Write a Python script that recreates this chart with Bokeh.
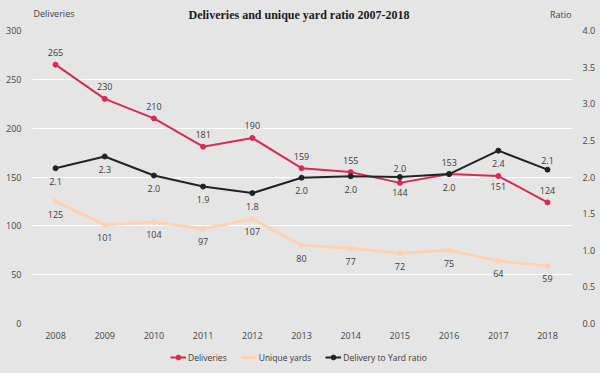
from bokeh.plotting import figure
from bokeh.layouts import column
from bokeh.models import (ColumnDataSource, Range1d, LinearAxis, Legend, LegendItem,
                          Label, FixedTicker, NumeralTickFormatter)
from bokeh.embed import file_html
from bokeh.resources import INLINE
from bokeh.core.properties import value

# ---- data ----
years = [2008, 2009, 2010, 2011, 2012, 2013, 2014, 2015, 2016, 2017, 2018]
deliveries = [265, 230, 210, 181, 190, 159, 155, 144, 153, 151, 124]
unique_yards = [125, 101, 104, 97, 107, 80, 77, 72, 75, 64, 59]
ratio = [2.12, 2.28, 2.02, 1.87, 1.78, 1.99, 2.01, 2.00, 2.04, 2.36, 2.10]
left_ticks = [0, 50, 100, 150, 200, 250, 300]
right_ticks = [0.0, 0.5, 1.0, 1.5, 2.0, 2.5, 3.0, 3.5, 4.0]
title_text = "Deliveries and unique  yard ratio 2007-2018"
left_title = "Deliveries"
right_title = "Ratio"
series_names = ["Deliveries", "Unique yards", "Delivery to Yard ratio"]

# label placement (style): "a" above, "b" below
deliveries_side = ["a", "a", "a", "a", "a", "a", "a", "b", "a", "b", "a"]
yards_side = ["b"] * 11
ratio_side = ["b", "b", "b", "b", "b", "b", "b", "a", "b", "b", "a"]

BG = "#e5e5e5"
RED = "#d82a52"
PEACH = "#fbd3b4"
BLACK = "#222222"
TXT = "#3a3a3a"
AXT = "#444444"
FONT = "Open Sans"
W = 600
FL, FR = 32, 572   # frame edges (column aligns all frames)

def bare(h):
    f = figure(width=W, height=h, output_backend="svg", toolbar_location=None,
               x_range=Range1d(FL, FR), y_range=Range1d(0, h),
               x_axis_type=None, y_axis_type=None,
               background_fill_color=BG, border_fill_color=BG, outline_line_color=None,
               min_border=0, min_border_left=0, min_border_right=0,
               min_border_top=0, min_border_bottom=0)
    f.grid.grid_line_color = None
    return f

# ---- header ----
HH = 25
head = bare(HH)
head.add_layout(Label(x=300, y=11, text=title_text, text_font="Liberation Serif",
                      text_font_style="bold", text_font_size="12px", text_color="#1a1a1a",
                      text_align="center", text_baseline="middle"))
head.add_layout(Label(x=FL + 1, y=12, text=left_title, text_font=FONT, text_font_size="9px",
                      text_color=AXT, text_align="left", text_baseline="middle"))
head.add_layout(Label(x=FR - 1, y=11, text=right_title, text_font=FONT, text_font_size="9px",
                      text_color=AXT, text_align="right", text_baseline="middle"))

# ---- main chart ----
p = figure(width=W, height=320, output_backend="svg", toolbar_location=None,
           x_range=Range1d(2007.532, 2018.508), y_range=Range1d(0, 300),
           background_fill_color=BG, border_fill_color=BG, outline_line_color=None,
           min_border_left=FL, min_border_right=W - FR, min_border_top=5, min_border_bottom=22)
p.extra_y_ranges = {"ratio": Range1d(0, 4)}

p.xgrid.grid_line_color = None
p.ygrid.grid_line_color = "white"
p.ygrid.grid_line_width = 1
p.ygrid.ticker = FixedTicker(ticks=left_ticks)

p.xaxis.ticker = FixedTicker(ticks=years)
p.yaxis.ticker = FixedTicker(ticks=left_ticks)

right = LinearAxis(y_range_name="ratio", ticker=FixedTicker(ticks=right_ticks),
                   formatter=NumeralTickFormatter(format="0.0"))
p.add_layout(right, "right")

for ax in [p.xaxis[0], p.yaxis[0], right]:
    ax.axis_line_color = None
    ax.major_tick_line_color = None
    ax.minor_tick_line_color = None
    ax.major_tick_out = 0
    ax.major_tick_in = 0
    ax.minor_tick_out = 0
    ax.minor_tick_in = 0
    ax.major_label_text_font = FONT
    ax.major_label_text_font_size = "9px"
    ax.major_label_text_color = AXT
p.xaxis.major_label_standoff = 8
p.yaxis[0].major_label_standoff = 11
right.major_label_standoff = 10

def offsets(sides, up, down):
    return [up if s == "a" else down for s in sides]

p.line(years, deliveries, color=RED, line_width=2)
p.scatter(years, deliveries, size=5, color=RED)
p.line(years, unique_yards, color=PEACH, line_width=3)
p.scatter(years, unique_yards, size=5, color=PEACH)
p.line(years, ratio, color=BLACK, line_width=2, y_range_name="ratio")
p.scatter(years, ratio, size=5, color=BLACK, y_range_name="ratio")

src1 = ColumnDataSource(dict(x=years, y=deliveries, t=[str(v) for v in deliveries],
                             off=offsets(deliveries_side, -12, 10)))
src2 = ColumnDataSource(dict(x=years, y=unique_yards, t=[str(v) for v in unique_yards],
                             off=offsets(yards_side, -12, 13)))
src3 = ColumnDataSource(dict(x=years, y=ratio, t=["%.1f" % v for v in ratio],
                             off=offsets(ratio_side, -9, 13)))
for src, rng in [(src1, "default"), (src2, "default"), (src3, "ratio")]:
    p.text("x", "y", text="t", y_offset="off", source=src, y_range_name=rng,
           text_align="center", text_baseline="middle",
           text_font=value(FONT), text_font_size="9px", text_color=TXT)

# ---- legend strip (series re-used only for legend swatches; out of view) ----
leg = bare(28)
l1 = leg.line(years, deliveries, color=RED, line_width=2)
m1 = leg.scatter(years, deliveries, size=5, color=RED)
l2 = leg.line(years, unique_yards, color=PEACH, line_width=3)
l3 = leg.line(years, ratio, color=BLACK, line_width=2)
m3 = leg.scatter(years, ratio, size=5, color=BLACK)
legend = Legend(items=[LegendItem(label=series_names[0], renderers=[l1, m1]),
                       LegendItem(label=series_names[1], renderers=[l2]),
                       LegendItem(label=series_names[2], renderers=[l3, m3])],
                orientation="horizontal", location=(170 - FL, 10),
                background_fill_alpha=0, border_line_color=None,
                label_text_font=FONT, label_text_font_size="8.5px", label_text_color=TXT,
                glyph_width=16, glyph_height=12, label_height=12, label_standoff=2,
                spacing=14, padding=0, margin=0)
leg.add_layout(legend)

layout = column(head, p, leg, spacing=0)

html = file_html(layout, INLINE)
html = html.replace("<head>", "<head><style>body{background:%s;}</style>" % BG, 1)
open("out.html", "w").write(html)
